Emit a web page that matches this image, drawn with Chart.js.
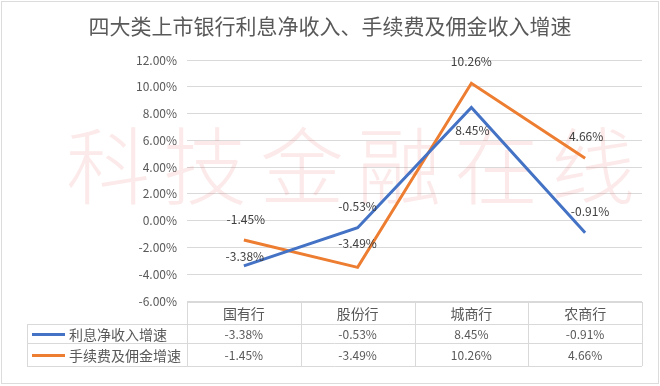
<!DOCTYPE html>
<html lang="zh">
<head>
<meta charset="UTF-8">
<title>四大类上市银行利息净收入、手续费及佣金收入增速</title>
<script src="https://cdn.jsdelivr.net/npm/chart.js"></script>
<style>
  html, body { margin: 0; padding: 0; background: #fff; }
  #wrap { width: 660px; height: 386px; }
</style>
</head>
<body>
<div id="wrap"><canvas id="c" width="660" height="386"></canvas></div>
<script>
// 数据
var categories = ['国有行', '股份行', '城商行', '农商行'];
var seriesNames = ['利息净收入增速', '手续费及佣金增速'];
var netInterest = [-3.38, -0.53, 8.45, -0.91];
var feeCommission = [-1.45, -3.49, 10.26, 4.66];
var yTicks = [-6, -4, -2, 0, 2, 4, 6, 8, 10, 12];

var FONT = '"Noto Sans CJK SC", "Noto Sans", sans-serif';
var TEXT = '#595959';
var GRID = '#d9d9d9';
var colors = ['#4472C4', '#ED7D31'];

function pct(v) { return v.toFixed(2) + '%'; }

// 数据标签的偏移 (dx, dy)
var labelOffsets = [
  [[1, -9], [0, -21], [1, 23], [5, -21]],
  [[2, -21], [0, -24], [0, -22], [1, -22]]
];

var extras = {
  id: 'extras',
  beforeDraw: function (chart) {
    var ctx = chart.ctx;
    ctx.save();
    ctx.fillStyle = '#fff';
    ctx.fillRect(0, 0, chart.width, chart.height);
    ctx.strokeStyle = '#dcdcdc';
    ctx.lineWidth = 1;
    ctx.strokeRect(1.5, 1.5, chart.width - 3, chart.height - 4);
    // 标题
    ctx.fillStyle = TEXT;
    ctx.font = '21px ' + FONT;
    ctx.textAlign = 'center';
    ctx.textBaseline = 'middle';
    ctx.fillText('四大类上市银行利息净收入、手续费及佣金收入增速', 330, 26);
    ctx.restore();
  },
  beforeDatasetsDraw: function (chart) {
    var ctx = chart.ctx;
    ctx.save();
    ctx.fillStyle = 'rgba(236, 110, 110, 0.15)';
    ctx.font = '300 84px ' + FONT;
    ctx.textAlign = 'center';
    ctx.textBaseline = 'middle';
    var wm = '科技金融在线';
    for (var i = 0; i < wm.length; i++) {
      ctx.fillText(wm[i], 108 + i * 97, 166);
    }
    ctx.restore();
  },
  afterDatasetsDraw: function (chart) {
    var ctx = chart.ctx;
    ctx.save();
    ctx.font = '12px ' + FONT;
    ctx.fillStyle = '#404040';
    ctx.textAlign = 'center';
    ctx.textBaseline = 'middle';
    chart.data.datasets.forEach(function (ds, di) {
      var meta = chart.getDatasetMeta(di);
      meta.data.forEach(function (pt, i) {
        var o = labelOffsets[di][i];
        ctx.fillText(pct(ds.data[i]), pt.x + o[0], pt.y + o[1]);
      });
    });

    // 数据表
    var xs = chart.scales.x;
    var area = chart.chartArea;
    var left = 27, right = area.right;
    var rows = [302, 324, 343, 366];
    var colW = xs.getPixelForValue(1) - xs.getPixelForValue(0);
    ctx.strokeStyle = GRID;
    ctx.lineWidth = 1;
    ctx.beginPath();
    ctx.moveTo(area.left, rows[0] + 0.5); ctx.lineTo(right, rows[0] + 0.5);
    for (var r = 1; r < rows.length; r++) {
      ctx.moveTo(left, rows[r] + 0.5); ctx.lineTo(right, rows[r] + 0.5);
    }
    ctx.moveTo(left + 0.5, rows[1]); ctx.lineTo(left + 0.5, rows[3]);
    for (var c = 0; c <= categories.length; c++) {
      var x = Math.round(area.left + c * colW) + 0.5;
      ctx.moveTo(x, rows[0]); ctx.lineTo(x, rows[3]);
    }
    ctx.stroke();

    ctx.fillStyle = TEXT;
    ctx.font = '14px ' + FONT;
    categories.forEach(function (cat, i) {
      ctx.fillText(cat, xs.getPixelForValue(i), (rows[0] + rows[1]) / 2 + 1);
    });
    var vals = [netInterest, feeCommission];
    vals.forEach(function (arr, si) {
      var cy = (rows[si + 1] + rows[si + 2]) / 2 + 1;
      ctx.strokeStyle = colors[si];
      ctx.lineWidth = 3;
      ctx.beginPath();
      ctx.moveTo(32, cy); ctx.lineTo(65, cy);
      ctx.stroke();
      ctx.textAlign = 'left';
      ctx.font = '14px ' + FONT;
      ctx.fillText(seriesNames[si], 69, cy);
      ctx.textAlign = 'center';
      ctx.font = '12px ' + FONT;
      arr.forEach(function (v, i) {
        ctx.fillText(pct(v), xs.getPixelForValue(i), cy);
      });
    });
    ctx.restore();
  }
};

new Chart(document.getElementById('c'), {
  type: 'line',
  data: {
    labels: categories,
    datasets: [
      { label: seriesNames[0], data: netInterest, borderColor: colors[0], borderWidth: 3, pointRadius: 0, tension: 0 },
      { label: seriesNames[1], data: feeCommission, borderColor: colors[1], borderWidth: 3, pointRadius: 0, tension: 0 }
    ]
  },
  options: {
    responsive: false,
    animation: false,
    layout: { padding: { top: 60, right: 18, bottom: 85, left: 0 } },
    plugins: { legend: { display: false }, title: { display: false }, tooltip: { enabled: false } },
    scales: {
      x: { type: 'category', offset: true, display: false },
      y: {
        min: yTicks[0], max: yTicks[yTicks.length - 1],
        afterFit: function (s) { s.width = 187; },
        afterBuildTicks: function (s) { s.ticks = yTicks.map(function (v) { return { value: v }; }); },
        border: { display: false },
        grid: { color: GRID, drawTicks: false },
        ticks: { padding: 10, color: TEXT, font: { size: 12, family: FONT }, callback: function (v) { return pct(v); } }
      }
    }
  },
  plugins: [extras]
});
</script>
</body>
</html>
